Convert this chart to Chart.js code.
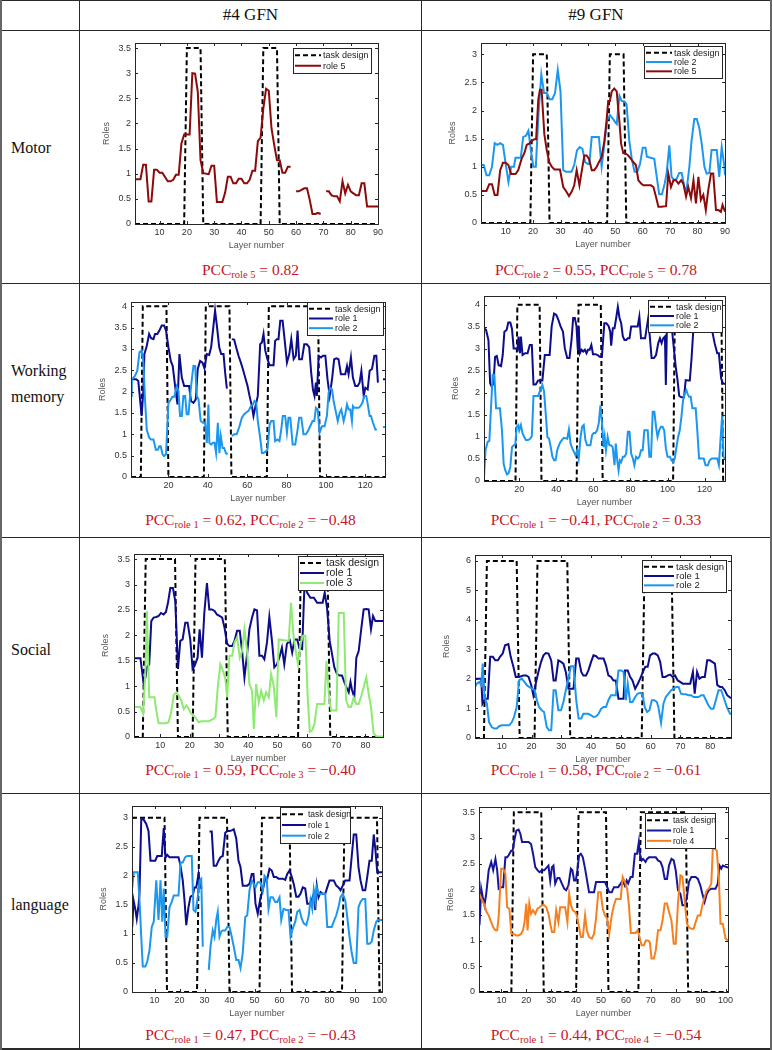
<!DOCTYPE html>
<html>
<head>
<meta charset="utf-8">
<script src="https://cdn.jsdelivr.net/npm/chart.js@4.4.0/dist/chart.umd.min.js"></script>
<style>
  body { margin: 0; background: #fff; }
  #page { position: relative; width: 772px; height: 1050px; overflow: hidden; font-family: "Liberation Serif", serif; color: #111; }
  .ln { position: absolute; background: #2a2a2a; }
  .hd { position: absolute; top: 0; height: 30px; line-height: 30px; text-align: center; font-size: 17px; }
  .rl { position: absolute; left: 11px; font-size: 16px; line-height: 26px; }
  .pcc { position: absolute; height: 20px; line-height: 20px; text-align: center; color: #c8141e; font-size: 15.5px; white-space: nowrap; }
  .pcc sub { font-size: 10.5px; vertical-align: -3px; line-height: 0; }
  canvas { position: absolute; }
</style>
</head>
<body>
<div id="page">
  <div class="ln" style="left:0;top:0;width:772px;height:1px"></div>
  <div class="ln" style="left:0;top:30px;width:772px;height:1px"></div>
  <div class="ln" style="left:0;top:283px;width:772px;height:1px"></div>
  <div class="ln" style="left:0;top:537px;width:772px;height:1px"></div>
  <div class="ln" style="left:0;top:793px;width:772px;height:1px"></div>
  <div class="ln" style="left:0;top:1048px;width:772px;height:2px"></div>
  <div class="ln" style="left:0;top:0;width:2px;height:1050px;background:#666"></div>
  <div class="ln" style="left:79px;top:0;width:1px;height:1050px"></div>
  <div class="ln" style="left:421px;top:0;width:1px;height:1050px"></div>
  <div class="ln" style="left:770px;top:0;width:2px;height:1050px;background:#666"></div>

  <div class="hd" style="left:80px;width:341px">#4 GFN</div>
  <div class="hd" style="left:422px;width:348px">#9 GFN</div>

  <div class="rl" style="top:135px">Motor</div>
  <div class="rl" style="top:358px">Working<br>memory</div>
  <div class="rl" style="top:637px">Social</div>
  <div class="rl" style="top:892px">language</div>

  <div class="pcc" style="left:80px;width:341px;top:260px">PCC<sub>role 5</sub> = 0.82</div>
  <div class="pcc" style="left:422px;width:348px;top:260px">PCC<sub>role 2</sub> = 0.55, PCC<sub>role 5</sub> = 0.78</div>
  <div class="pcc" style="left:80px;width:341px;top:510px">PCC<sub>role 1</sub> = 0.62, PCC<sub>role 2</sub> = −0.48</div>
  <div class="pcc" style="left:422px;width:348px;top:510px">PCC<sub>role 1</sub> = −0.41, PCC<sub>role 2</sub> = 0.33</div>
  <div class="pcc" style="left:80px;width:341px;top:760px">PCC<sub>role 1</sub> = 0.59, PCC<sub>role 3</sub> = −0.40</div>
  <div class="pcc" style="left:422px;width:348px;top:760px">PCC<sub>role 1</sub> = 0.58, PCC<sub>role 2</sub> = −0.61</div>
  <div class="pcc" style="left:80px;width:341px;top:1025px">PCC<sub>role 1</sub> = 0.47, PCC<sub>role 2</sub> = −0.43</div>
  <div class="pcc" style="left:422px;width:348px;top:1025px">PCC<sub>role 1</sub> = 0.44, PCC<sub>role 4</sub> = −0.54</div>
</div>
<script>
// tick labels
const xTicks90 = [10, 20, 30, 40, 50, 60, 70, 80, 90];
const xTicks130 = [20, 40, 60, 80, 100, 120];
const xTicks87 = [10, 20, 30, 40, 50, 60, 70, 80];
const xTicks100 = [10, 20, 30, 40, 50, 60, 70, 80, 90, 100];
const yTicks3 = [0, 0.5, 1, 1.5, 2, 2.5, 3];
const yTicks35 = [0, 0.5, 1, 1.5, 2, 2.5, 3, 3.5];
const yTicks4 = [0, 0.5, 1, 1.5, 2, 2.5, 3, 3.5, 4];
const yTicks6 = [0, 1, 2, 3, 4, 5, 6];

// task design (boxcar), [layer, value]
const taskMotor4 = [[1,0],[19,0],[20,3.5],[25,3.5],[26,0],[47,0],[48,3.5],[53,3.5],[54,0],[90,0]];
const taskMotor9 = [[1,0],[19,0],[20,3],[25,3],[26,0],[47,0],[48,3],[53,3],[54,0],[90,0]];
const taskWm4 = [[1,0],[6,0],[7,4],[19,4],[20,0],[38,0],[39,4],[51,4],[52,0],[70,0],[71,4],[96,4],[97,0],[130,0]];
const taskWm9 = [[1,0],[18,0],[19,4],[31,4],[32,0],[51,0],[52,4],[64,4],[65,0],[103,0],[104,4],[129,4],[130,0],[131,0]];
const taskSocial4 = [[1,0],[4,0],[5,3.5],[15,3.5],[16,0],[21,0],[22,3.5],[32,3.5],[33,0],[57,0],[58,3.5],[67,3.5],[68,0],[86,0]];
const taskSocial9 = [[1,0],[4,0],[5,6],[15,6],[16,0],[21,0],[22,6],[32,6],[33,0],[57,0],[58,6],[67,6],[68,0],[87,0]];
const taskLang4 = [[1,3],[14,3],[15,0],[27,0],[28,3],[39,3],[40,0],[52,0],[53,3],[64,3],[65,0],[85,0],[86,3],[99,3],[100,0],[101,0]];
const taskLang9 = [[1,0],[14,0],[15,3.5],[26,3.5],[27,0],[40,0],[41,3.5],[52,3.5],[53,0],[65,0],[66,3.5],[84,3.5],[85,0],[101,0]];

// roles, [layer, value]; null = missing layer
const motor4Role5 = [[1,0.89],[3,0.89],[4,1.18],[5,1.18],[6,0.45],[7,0.45],[8,1.08],[9,1.08],[10,1.02],[11,1.02],[13,0.85],[14,0.85],[15,0.88],[16,0.98],[17,0.98],[18,1.6],[19,1.78],[21,1.78],[22,3.0],[23,2.99],[24,2.63],[25,1.27],[26,1.01],[28,0.99],[29,1.16],[30,1.16],[31,0.44],[33,0.44],[34,0.62],[35,0.94],[36,0.94],[37,0.81],[38,0.81],[39,0.9],[40,0.9],[41,0.81],[42,0.81],[43,0.88],[44,1.06],[45,1.06],[46,1.65],[47,1.72],[48,2.3],[49,2.69],[50,2.65],[51,1.9],[52,1.57],[53,1.27],[54,1.27],[55,1.02],[56,1.02],[57,1.14],[58,1.14],[59,null],[60,0.65],[61,0.65],[63,0.71],[64,0.71],[65,0.48],[66,0.2],[67,0.2],[68,0.22],[69,0.2],[70,null],[71,0.65],[72,0.65],[73,0.57],[74,0.55],[75,0.55],[76,0.45],[77,0.85],[78,0.61],[79,0.78],[80,0.65],[81,0.61],[82,0.57],[83,0.57],[84,0.81],[85,0.81],[86,0.35],[87,0.35],[90,0.35]];

const motor9Role2 = [[1,1.03],[2,1.03],[3,0.85],[4,0.85],[5,1.0],[6,1.42],[7,1.39],[8,1.42],[9,1.39],[10,1.05],[11,0.73],[12,1.0],[13,1.0],[13.6,1.16],[15.5,1.16],[16.4,1.53],[17.4,1.55],[18.3,1.64],[19.2,1.29],[20.1,1.0],[21,1.0],[22,1.96],[23,2.64],[24,2.31],[25,2.31],[26,2.2],[27,2.2],[28,2.31],[29,2.72],[30,2.34],[31,0.94],[32,0.91],[34,0.91],[35,1.03],[36,1.29],[37,1.35],[38,1.32],[39,1.08],[40,1.05],[40.5,1.05],[41.4,1.53],[44,1.53],[45,1.0],[46,1.41],[47,1.83],[48,1.92],[49,1.86],[50,1.79],[50.5,1.76],[51.5,2.26],[52.3,2.17],[53.3,2.16],[54.1,2.11],[55.1,1.46],[56,1.14],[57,0.91],[58,0.91],[59,1.05],[60,1.34],[61,1.34],[61.5,1.18],[64.2,1.14],[65.1,0.82],[66,0.51],[67,0.51],[68,0.7],[68.7,0.88],[69.7,1.38],[70.5,0.82],[71.5,0.76],[72.4,0.79],[73.3,0.89],[74.2,0.89],[75.2,0.64],[76,0.59],[77,1.0],[77.8,1.46],[78.8,1.85],[79.7,1.85],[80.6,1.7],[81.5,1.41],[82.5,1.0],[83.3,0.88],[84.3,0.89],[85.1,1.3],[87,1.3],[87.9,0.82],[88.8,1.35],[89.8,1.0],[90,0.85]];
const motor9Role5 = [[1,0.57],[3,0.57],[4,0.69],[5,0.69],[6,0.5],[7,0.5],[8,0.94],[9,1.07],[10,1.07],[11,1.03],[12,0.87],[13.6,0.87],[14.6,0.94],[15.8,1.14],[16.8,1.24],[17.7,1.39],[18.6,1.41],[19.5,1.46],[20.5,1.49],[21.1,1.49],[21.9,2.2],[22.5,2.37],[23.1,2.37],[24.1,1.58],[25,1.29],[25.9,1.08],[26.8,1.0],[27.8,0.95],[29.8,0.95],[31,0.64],[32,0.57],[33.1,0.48],[34.1,0.56],[35,0.67],[35.9,0.94],[36.9,0.67],[37.7,0.91],[38.7,1.2],[39.5,1.2],[40.4,1.14],[41.4,0.94],[42.3,0.94],[43.2,1.0],[44,1.08],[45,1.17],[46,1.46],[46.8,1.82],[47.4,2.17],[48,2.17],[48.7,2.34],[49.6,2.39],[50.5,2.34],[51.5,1.79],[52.1,1.41],[52.9,1.24],[53.9,1.23],[54.7,1.2],[55.7,1.14],[56.6,1.08],[57.5,1.03],[58.4,0.76],[59.4,0.7],[60.2,0.67],[63,0.67],[63.9,0.64],[64.8,0.47],[65.7,0.29],[66.7,0.29],[68.5,0.3],[69.3,0.88],[70.3,0.64],[71.2,0.76],[72.1,0.76],[73,0.7],[74,0.76],[74.8,0.7],[75.8,0.47],[76.6,0.64],[77.6,0.44],[78.5,0.76],[79.4,0.35],[80.3,0.82],[81.2,0.41],[82.1,0.5],[83,0.23],[83.9,0.59],[84.9,0.88],[85.7,0.88],[86.7,0.23],[87.6,0.23],[88.5,0.2],[89.1,0.32],[90,0.2]];

const wm4Role1 = [[1,2.29],[3.6,2.29],[4.7,2.25],[5.6,1.82],[6.4,1.43],[7.3,2.05],[7.8,2.88],[9,3.07],[10.2,3.35],[11.2,3.25],[12.4,3.23],[13.2,3.35],[14.4,3.35],[15.4,3.43],[16.6,3.55],[17.8,3.55],[18.8,3.43],[20,3.04],[21.2,2.72],[22.2,2.6],[23.4,2.13],[24.6,1.7],[25.6,2.88],[26.8,2.33],[28,2.13],[30.5,2.13],[31.5,1.78],[32.7,1.74],[33.9,1.82],[34.9,2.53],[36.1,2.72],[37.3,2.68],[38.3,2.55],[39.5,2.88],[40.7,2.86],[41.7,3.04],[42.9,3.55],[43.7,3.9],[44.6,3.55],[45.8,3.04],[46.8,2.88],[48,2.88],[48.8,2.45],[49.7,2.07],[51,null],[52.2,3.23],[53.4,3.22],[54.4,3.04],[55.6,2.84],[56.8,2.68],[57.8,2.53],[59,2.33],[60.2,2.13],[61.2,1.9],[62.4,1.66],[63.2,1.43],[64.4,1.7],[65.4,1.9],[66.6,3.11],[67.5,3.15],[68.3,3.35],[69.2,2.96],[70.3,2.76],[71.4,2.62],[73.4,2.62],[74.2,3.19],[75.1,3.23],[75.9,3.23],[76.8,3.66],[78,3.66],[79,3.23],[80.2,2.68],[81.4,2.88],[82.4,3.23],[83.6,2.76],[84.7,2.84],[85.6,3.43],[86.4,2.76],[87.8,2.76],[89,3.11],[90.3,3.11],[91.5,3.04],[92.5,2.45],[93.4,2.05],[94.2,1.9],[94.9,2.21],[95.4,1.9],[96.3,2.84],[97.5,2.8],[98.5,2.84],[99.7,2.84],[100.8,2.29],[101.9,1.9],[103.1,2.29],[104.2,2.76],[105.3,2.78],[106.4,2.76],[107.6,2.41],[109.8,2.41],[110.7,2.6],[111.5,2.41],[112.7,2.8],[113.7,2.33],[114.9,2.13],[116.1,2.13],[117.1,2.21],[118,2.49],[119.2,1.9],[120,2.09],[121.2,2.05],[122.2,2.49],[123.4,2.53],[124.6,2.84],[125.6,2.84],[126.4,2.21],[127.5,null],[129,2.29],[130,2.29]];
const wm4Role2 = [[1,1.9],[1.4,2.29],[3,2.37],[4.2,2.49],[5.3,2.92],[6.4,2.96],[7.3,2.68],[8.1,1.82],[9,1.11],[10.2,0.92],[11.2,0.88],[12.4,0.88],[13.6,0.64],[14.6,0.64],[15.4,0.72],[16.1,0.72],[17,0.53],[17.8,0.49],[18.8,0.53],[20,1.74],[20.8,1.78],[22,1.88],[23,1.88],[24.2,2.12],[25.1,2.02],[25.9,1.43],[26.8,1.43],[27.6,1.9],[28.5,1.9],[29.3,1.47],[30.2,1.47],[31,1.9],[31.9,2.29],[32.7,2.6],[33.6,2.6],[34.4,1.9],[35.3,1.82],[36.4,1.31],[37.5,1.27],[38.6,1.27],[39.5,0.8],[40.3,1.7],[40.8,0.8],[41.7,0.76],[42.5,0.8],[43.4,0.8],[44.2,0.56],[45.1,1.27],[45.9,0.56],[46.6,0.96],[47.5,0.68],[48.3,0.68],[49.2,0.56],[50,0.53],[51,null],[52.2,0.96],[53.4,1.0],[54.7,1.0],[56.1,1.19],[57.3,1.39],[58.5,1.47],[59.5,1.51],[60.7,1.55],[61.9,1.66],[62.9,1.7],[63.7,1.78],[64.6,1.74],[65.4,1.31],[66.6,0.92],[67.5,0.56],[68.3,0.56],[69.5,0.6],[70.3,0.64],[71.4,1.23],[72.2,1.31],[73.4,1.31],[74.2,0.84],[75.4,0.88],[76.4,0.84],[77.3,1.11],[78.1,1.43],[79.3,1.43],[80.2,1.04],[81,1.39],[81.9,1.39],[83.1,0.76],[84.4,0.76],[85.6,1.11],[86.4,1.39],[87.5,1.39],[88.6,1.0],[89.8,1.0],[90.8,1.07],[92,1.19],[93.2,1.31],[94.1,1.31],[94.9,1.62],[95.8,1.58],[96.8,1.04],[98,1.19],[99.3,1.19],[100.5,1.43],[101.4,1.98],[102.2,2.09],[103.1,2.05],[103.9,1.78],[105.1,1.51],[106,1.31],[107,1.51],[107.8,1.58],[109,1.31],[109.8,1.47],[110.7,1.7],[111.5,1.58],[112.4,1.58],[113.2,1.31],[113.7,1.66],[114.4,1.62],[116.6,1.62],[117.5,1.66],[118.5,1.74],[119.5,1.9],[120.5,1.9],[121.4,1.66],[122.2,1.43],[122.9,1.43],[123.9,1.27],[125.1,1.11],[125.9,1.11],[127.5,null],[129,1.17],[130,1.17]];

const wm9Role1 = [[1,3.47],[2.1,3.43],[3.4,3.2],[4.3,2.22],[5.2,2.14],[6.1,2.22],[7,2.82],[7.9,2.84],[8.9,2.63],[10.2,2.61],[11.1,2.86],[12,3.39],[13.2,3.43],[14.1,3.6],[15.2,3.6],[16.1,3.45],[17,3.01],[18.2,3.01],[19.1,2.98],[19.6,3.28],[20.4,2.9],[20.9,3.28],[21.8,2.86],[23.2,2.9],[24.5,2.9],[25.7,3.09],[26.8,3.09],[27.7,2.19],[28.9,2.19],[30.2,2.28],[32.5,2.28],[33.8,2.86],[36.4,2.86],[37.5,3.51],[38.8,3.8],[40,3.77],[41.1,3.66],[42.3,3.51],[43.6,3.39],[44.6,3.01],[45.9,2.79],[47.1,2.79],[48.2,3.2],[49.1,3.7],[50,3.7],[50.9,3.51],[51.6,2.98],[52.1,3.51],[52.7,2.9],[53.6,2.98],[54.5,2.94],[55.4,2.98],[56.3,2.9],[57.1,2.98],[58,2.98],[58.9,3.09],[59.8,2.88],[61.1,2.88],[62.3,2.86],[63.4,2.82],[64.6,2.82],[65.9,3.58],[67,3.58],[68.2,3.52],[69.1,3.39],[69.6,3.07],[70.5,3.47],[71.4,3.47],[72.3,3.7],[73.2,3.95],[74.1,3.7],[75,3.58],[75.9,3.28],[76.8,3.2],[77.7,3.2],[78.6,3.24],[79.5,3.24],[80.4,3.51],[83.9,3.51],[84.8,3.73],[85.7,3.24],[87.9,3.24],[89.6,3.7],[91.4,2.79],[92.7,2.79],[93.8,2.86],[95,3.13],[95.9,3.24],[96.8,3.13],[97.7,3.24],[98.6,3.28],[99.1,2.18],[99.6,3.35],[100.4,3.77],[102,3.6],[104.5,2.56],[105.4,2.29],[106.3,1.93],[107.5,1.9],[108.9,1.9],[109.8,2.29],[111.1,2.28],[112,2.28],[112.9,2.75],[113.8,3.35],[114.6,3.58],[116.4,3.6],[120,3.6],[123.6,3.51],[125.4,3.13],[126.8,2.9],[127.7,2.9],[128.9,2.33],[129.8,2.22],[131,2.2]];
const wm9Role2 = [[1,0.09],[1.8,0.7],[3,0.89],[3.9,0.91],[4.8,1.69],[5.7,2.41],[6.6,2.41],[7.5,1.65],[9.6,1.65],[10.7,1.15],[11.6,0.39],[12.5,0.24],[13.4,0.15],[14.3,0.18],[15.2,0.32],[16.1,0.77],[17,0.81],[17.9,0.83],[18.6,1.23],[19.5,1.27],[20,1.15],[20.9,1.27],[21.8,1.08],[22.7,1.0],[23.6,0.93],[24.8,0.93],[25.9,0.96],[26.8,1.02],[27.7,1.93],[30.2,1.93],[31.3,2.06],[32.5,2.18],[33.4,2.03],[34.3,1.53],[35.2,1.0],[36.1,0.96],[37,0.77],[37.9,0.55],[38.8,0.47],[39.6,0.47],[40.5,0.7],[41.4,0.81],[42.3,0.89],[43.2,0.94],[44.1,0.98],[45.9,0.96],[46.8,1.17],[47.7,0.85],[48.6,0.74],[49.5,0.66],[50.4,0.58],[51.3,0.7],[52.1,0.51],[53,0.96],[53.9,1.23],[54.8,1.27],[55.7,0.93],[56.6,0.81],[58.4,0.81],[59.3,1.04],[60.2,1.09],[61.1,1.09],[62,1.15],[62.9,1.31],[63.8,1.72],[64.6,1.34],[65.5,0.77],[66.1,1.0],[66.8,0.7],[67.7,1.0],[68.6,0.81],[69.5,0.81],[70.4,0.77],[71.4,0.36],[72.1,0.85],[72.9,0.47],[73.6,0.24],[74.3,0.47],[75,0.43],[75.9,0.55],[76.8,0.55],[77.7,0.62],[78.6,1.12],[79.5,1.12],[80.4,0.62],[81.3,0.51],[82.1,0.36],[83,0.55],[83.9,0.51],[84.8,0.55],[85.7,0.7],[86.6,0.7],[87.5,1.15],[89.3,1.15],[90.2,0.55],[91.1,0.55],[92,1.57],[92.9,1.57],[93.8,1.23],[94.6,1.0],[95.5,1.15],[96.4,1.23],[97.3,1.23],[98.2,1.15],[99.1,0.74],[100,0.55],[101.3,0.55],[102.1,0.47],[103,0.43],[103.9,0.51],[104.8,0.77],[105.7,1.0],[106.6,1.15],[107.5,1.46],[108.4,1.84],[109.3,1.99],[110.2,2.06],[110.7,1.99],[111.6,1.91],[112.5,1.91],[113.4,1.65],[115.2,1.65],[116.1,1.12],[117,0.51],[119.5,0.51],[120.5,0.36],[121.8,0.36],[122.7,0.47],[123.9,0.51],[126.8,0.51],[127.7,0.36],[128.6,0.96],[129.5,1.5],[130.2,0.55],[131,0.5]];

const social4Role1 = [[1,1.55],[3.2,1.55],[4.3,1.04],[4.9,1.17],[5.4,1.37],[6.2,1.43],[6.9,2.28],[7.7,2.35],[8.6,2.36],[9.4,2.38],[10.2,2.44],[11.1,2.41],[11.9,2.46],[12.6,2.64],[13.4,2.93],[14.3,2.93],[15.1,2.67],[16,1.34],[16.8,1.89],[17.6,1.92],[18.5,2.25],[19.3,2.25],[20.2,1.92],[21,1.34],[21.7,1.4],[22.7,1.56],[23.4,2.12],[24.2,1.56],[25,2.44],[25.9,3.03],[26.7,2.51],[27.6,2.51],[28.5,2.48],[29.3,2.41],[30.3,2.38],[31.1,2.35],[31.9,2.15],[32.8,1.83],[33.6,1.79],[34.5,1.79],[35.3,1.89],[36.2,2.09],[37.1,2.09],[37.9,1.69],[38.7,1.17],[39.6,1.63],[40.4,2.12],[41.3,2.35],[42.1,2.51],[43,2.49],[43.8,1.6],[44.7,1.6],[45.5,1.53],[46.4,1.86],[47.2,2.36],[48.1,1.89],[48.9,1.37],[49.8,1.43],[50.6,1.56],[51.5,1.76],[52.3,1.43],[53.2,1.83],[54.2,1.9],[55,1.66],[55.8,1.92],[56.7,1.92],[57.5,1.75],[58.4,1.73],[59.2,3.0],[60.1,2.84],[61.2,2.74],[62.4,2.74],[63.5,2.64],[65.4,2.64],[66.1,2.84],[66.9,2.54],[67.8,1.89],[68.6,1.63],[69.4,1.37],[70.3,1.24],[71.2,1.21],[72,1.21],[72.8,1.08],[73.5,0.98],[74.3,0.88],[74.9,1.08],[75.4,0.93],[76.2,0.78],[76.9,1.56],[77.7,1.69],[78.5,2.09],[79.4,2.51],[80.3,2.52],[81.1,2.51],[81.9,2.12],[82.6,2.38],[83.4,2.28],[86,2.28]];
const social4Role3 = [[1,0.59],[3.2,0.59],[4.1,0.46],[4.9,1.3],[5.4,2.48],[6.2,0.78],[8,0.78],[8.6,0.52],[9.4,0.27],[11.9,0.27],[12.8,0.29],[13.6,0.46],[14.6,0.83],[15.5,0.88],[16.3,0.81],[17.1,0.72],[18,0.55],[18.9,0.62],[19.7,0.55],[20.5,0.46],[21.4,0.42],[22.2,0.36],[23.1,0.29],[23.9,0.31],[26.5,0.31],[27.3,0.33],[28.2,0.36],[28.8,0.39],[29.6,0.98],[30.5,1.43],[31.4,1.3],[32.2,1.14],[32.8,0.78],[33.6,1.6],[34.5,1.6],[35.3,1.86],[36.2,1.96],[37.1,1.56],[37.9,1.69],[38.7,2.12],[39.6,1.69],[40.4,1.04],[41.3,0.91],[41.9,0.16],[42.7,1.04],[43.6,0.68],[44.4,0.91],[45.3,0.72],[46.1,0.88],[47,0.78],[47.8,1.24],[48.7,1.01],[49.6,0.39],[50.4,1.92],[53.8,1.89],[54.6,2.64],[55.5,1.96],[56.3,1.66],[57,1.43],[57.8,1.83],[58.7,1.99],[59.5,1.99],[60.3,0.78],[61,0.1],[61.8,0.13],[62.6,0.26],[63.5,0.65],[66,0.65],[66.7,1.5],[67.5,0.85],[68.3,0.52],[70.1,0.52],[70.9,2.44],[72.6,2.44],[73.4,0.72],[74.3,0.59],[75.1,0.59],[76,0.78],[76.9,0.65],[77.7,0.65],[78.6,0.81],[79.4,0.98],[80.3,1.17],[81.1,0.85],[81.9,0.59],[82.8,0.07],[83.8,0.01],[86,0.01]];

const social9Role1 = [[1,2.01],[3.1,2.01],[3.5,1.16],[4.4,1.33],[5.3,1.33],[6.1,2.75],[7,2.75],[7.8,2.63],[8.7,2.63],[9.4,2.75],[10.3,2.86],[11.1,3.14],[12.2,3.18],[13,2.75],[13.9,2.41],[14.7,2.07],[15.6,2.07],[16.5,2.09],[17.3,2.12],[18.2,2.12],[19,2.07],[19.9,1.79],[20.6,1.45],[21.4,1.84],[22.3,2.24],[23.2,2.58],[24,2.8],[24.8,2.88],[25.7,2.86],[26.6,2.63],[27.4,1.95],[28.1,1.95],[29,2.63],[29.9,2.58],[30.7,2.52],[31.5,2.24],[32.4,1.67],[34.1,1.67],[35,2.69],[35.8,2.69],[36.7,2.24],[37.4,2.12],[38.3,2.12],[39.1,2.29],[40,2.58],[40.8,2.8],[41.7,2.77],[42.5,2.69],[44.2,2.69],[45,2.46],[45.8,2.12],[46.7,2.07],[47.5,1.95],[48.3,1.95],[49.2,1.33],[50.9,1.33],[51.4,2.29],[52.3,2.29],[53.1,2.07],[53.9,1.95],[54.8,1.67],[55.7,1.84],[56.5,2.01],[57.4,2.24],[58.2,2.41],[59,2.41],[59.8,2.8],[60.7,2.86],[61.5,2.86],[62.4,2.8],[63.2,2.58],[64,2.07],[64.9,2.07],[65.8,2.12],[66.6,2.15],[67.4,2.07],[68.2,2.12],[69.1,1.95],[69.9,1.9],[70.8,1.84],[73.3,1.84],[74.2,2.24],[74.8,1.5],[75.6,2.24],[76.4,2.01],[77.3,2.07],[78.2,2.07],[79,2.63],[79.9,2.63],[80.7,2.58],[81.6,2.52],[82.4,1.79],[83.3,1.73],[84,1.73],[84.9,1.62],[85.7,1.45],[87,1.35]];
const social9Role2 = [[1,1.73],[1.6,1.84],[2.4,1.9],[3.1,1.79],[3.6,2.52],[4.2,1.39],[5,1.16],[5.7,0.54],[6.6,0.37],[7.5,0.32],[8.3,0.32],[9.1,0.4],[10,0.43],[12.5,0.43],[13.4,0.54],[14.1,0.71],[15,1.05],[15.8,1.95],[16.7,2.01],[17.6,1.9],[18.4,1.79],[19.2,1.73],[20.1,1.67],[21,1.62],[21.8,1.28],[22.5,1.05],[23.4,0.94],[24.2,0.88],[25.1,0.37],[25.9,0.26],[26.6,0.26],[27.4,1.62],[28.1,1.62],[29,0.94],[29.9,0.94],[30.7,1.22],[31.5,1.62],[32.4,2.01],[33.2,2.43],[34.1,2.43],[35,1.28],[35.8,0.66],[36.7,0.66],[37.4,0.82],[39.1,0.82],[40,0.77],[40.8,0.71],[41.7,0.73],[42.5,0.82],[43.4,0.99],[44.2,1.05],[45,1.05],[45.8,1.28],[46.7,1.45],[48.3,1.45],[49.2,2.29],[50.1,2.29],[50.9,2.24],[51.7,1.28],[52.3,1.84],[53.1,1.22],[53.9,1.22],[54.8,1.39],[55.6,1.5],[56.5,1.53],[57.3,1.48],[58,1.05],[58.8,0.88],[59.6,0.94],[60.4,1.28],[61.3,1.28],[62.1,1.22],[62.6,1.05],[63.5,0.51],[64.3,1.16],[65.1,1.39],[66,1.5],[66.9,1.62],[67.7,1.67],[68.6,1.73],[69.4,1.73],[70.2,1.5],[71,1.48],[71.9,1.48],[72.7,1.45],[73.6,1.45],[74.4,1.39],[76.1,1.39],[77,1.45],[77.8,1.45],[78.6,1.28],[79.4,1.11],[80.3,0.99],[81.1,0.99],[81.9,1.28],[82.8,1.62],[83.7,1.62],[84.5,1.39],[85.6,1.05],[86.7,0.82],[87,0.8]];

const lang4Role1 = [[1.1,1.12],[1.6,1.58],[2.3,1.43],[2.9,1.26],[3.6,1.49],[4,1.69],[4.7,2.97],[5.6,2.97],[6.7,2.89],[7.6,2.77],[8.4,2.26],[10.3,2.26],[11.1,2.34],[12.9,2.34],[13.7,2.82],[14.4,2.31],[15.1,2.36],[16,2.32],[19.6,2.32],[20.4,2.17],[21.3,1.92],[22,1.58],[22.7,1.15],[23.6,1.46],[24.4,1.64],[25.3,1.66],[26,1.8],[26.7,1.8],[27.6,2.03],[28.3,1.8],[29.1,1.78],[30.5,null],[32,2.76],[32.9,2.76],[33.7,2.17],[34.7,2.17],[35.6,2.26],[36.4,2.32],[37.3,2.34],[38.3,2.74],[39.1,2.77],[40,2.77],[40.9,2.78],[41.7,2.8],[42.7,2.64],[43.6,2.26],[44.4,2.15],[45.3,1.83],[47.1,1.83],[48,1.86],[48.9,2.03],[49.6,2.03],[50.4,1.52],[51.3,1.35],[52.3,1.6],[53.3,1.75],[54.3,1.95],[55.1,1.95],[56,2.12],[56.9,2.09],[57.7,1.98],[58.7,1.98],[59.6,1.95],[61.3,1.95],[62.3,1.93],[63.1,2.03],[64,2.09],[64.9,1.98],[65.7,1.86],[66.7,1.64],[67.6,1.64],[68.4,1.69],[69.3,1.8],[70.3,1.78],[71.1,1.52],[72,1.52],[72.9,1.58],[73.7,1.69],[74.3,1.41],[74.9,1.83],[75.6,1.63],[76.4,1.72],[77.3,1.69],[78.3,1.69],[79.1,1.8],[80,1.92],[81.7,1.92],[82.7,1.83],[83.6,1.8],[84.4,1.75],[85.3,1.83],[86.3,1.92],[88,1.92],[88.9,2.34],[89.7,2.71],[90.7,2.71],[91.6,2.15],[92.4,1.92],[93.3,1.75],[94.3,1.75],[95.1,1.98],[96,2.26],[96.9,2.26],[97.7,2.71],[98.4,2.43],[99.1,2.06],[101,2.06]];
const lang4Role2 = [[1.1,1.8],[1.7,2.06],[3.3,2.06],[4,1.58],[4.7,0.95],[5.3,0.44],[6.3,0.44],[7.1,0.52],[8,0.72],[8.9,1.12],[9.7,1.21],[10.7,1.92],[11.6,1.24],[12.4,1.92],[13.1,1.21],[13.7,1.78],[14.4,0.95],[15.1,0.95],[16,1.46],[16.9,1.55],[17.7,1.66],[19.6,1.66],[20.4,2.23],[21.3,2.23],[22.3,2.32],[23.1,2.34],[24.9,2.34],[25.6,1.41],[26.4,1.38],[27.3,1.63],[28,1.92],[28.7,1.95],[29.3,0.78],[30.5,null],[31.7,0.38],[32.4,0.78],[33.3,1.06],[34,0.95],[34.7,1.24],[35.3,1.38],[36,0.95],[36.7,1.04],[37.3,1.06],[38.3,1.06],[39.1,1.12],[40,1.12],[40.9,0.95],[41.7,0.78],[42.7,0.55],[43.6,0.55],[44.4,0.41],[45.3,0.67],[46.3,1.29],[47.1,1.32],[48,1.75],[48.9,1.92],[49.7,1.86],[50.4,1.8],[51.3,1.89],[52.3,1.89],[53.3,1.75],[54,2.0],[54.9,1.95],[55.6,1.43],[56.4,1.63],[57.3,1.63],[58.3,1.55],[59.1,1.55],[60,1.63],[60.7,1.24],[61.6,1.43],[62.7,1.41],[63.6,1.41],[64.4,0.95],[65.3,1.09],[66.3,1.21],[67.1,1.38],[68,1.41],[68.9,1.26],[69.7,1.18],[70.7,1.15],[71.6,1.29],[72.4,1.58],[73.1,1.43],[73.7,1.75],[74.3,1.55],[74.9,1.8],[75.6,1.69],[78.3,1.69],[79.1,1.12],[80.9,1.12],[81.7,1.21],[82.7,1.32],[83.6,1.46],[84.4,1.63],[85.3,1.69],[86.3,1.58],[87.1,1.29],[88,0.95],[88.9,0.67],[89.7,0.5],[90.7,0.5],[91.6,1.46],[92.4,1.55],[93.3,1.6],[94.3,1.6],[95.1,0.83],[96,0.83],[96.9,0.87],[97.7,1.06],[98.7,1.21],[99.3,1.24],[101,1.24]];

const lang9Role1 = [[1.2,1.3],[1.9,2.01],[2.5,1.85],[3.2,1.69],[3.9,1.91],[4.9,2.37],[5.9,2.53],[6.7,2.37],[7.6,2.59],[8.3,2.37],[8.9,2.01],[9.9,2.04],[10.7,2.04],[11.6,2.62],[12.3,2.62],[12.9,2.66],[13.9,2.75],[14.5,2.75],[15.2,2.95],[16,3.14],[16.9,3.16],[17.6,3.08],[18.3,2.92],[20.9,2.92],[21.9,2.88],[22.7,2.69],[23.6,2.43],[24.5,2.37],[25.3,2.33],[26.3,2.37],[27.2,2.37],[28,2.41],[28.9,2.46],[29.6,2.17],[30.3,2.43],[30.9,2.46],[31.6,2.11],[32.5,2.22],[33.3,2.22],[34.3,2.11],[35.2,2.01],[36,1.98],[36.9,2.07],[37.9,2.4],[38.5,2.37],[39.2,2.17],[39.9,2.17],[40.5,2.37],[41.2,2.66],[41.9,2.69],[42.7,2.62],[43.6,2.4],[44.3,2.2],[45.2,1.94],[47.2,1.94],[48,2.14],[51.6,2.14],[52.5,2.04],[53.3,1.94],[54.3,1.94],[55.2,2.04],[56.9,2.04],[57.9,2.11],[58.7,2.17],[59.6,2.07],[60.3,2.17],[60.9,2.11],[61.9,2.24],[62.7,2.24],[63.6,2.69],[64.5,2.69],[65.2,2.92],[65.6,2.69],[66.3,2.56],[66.9,2.59],[67.9,2.53],[68.5,2.59],[69.3,2.62],[72,2.62],[72.9,2.56],[73.9,2.53],[74.7,2.43],[75.6,2.2],[76.5,2.2],[77.3,2.46],[78.3,2.59],[79.2,2.56],[80,2.37],[80.9,1.98],[81.9,1.91],[82.7,1.69],[83.6,1.69],[84.5,1.85],[85.3,2.14],[86.3,2.24],[88,2.24],[88.9,2.2],[89.9,2.07],[90.7,1.91],[91.6,1.75],[92.5,1.91],[93.3,1.98],[94.3,2.01],[96,2.01],[96.9,2.11],[97.6,2.46],[98.3,2.4],[98.9,2.46],[101,2.42]];
const lang9Role4 = [[1.2,1.91],[2.3,1.78],[3.2,1.69],[4,1.56],[4.9,1.49],[5.9,1.36],[6.7,1.26],[7.6,1.2],[8.3,1.2],[8.9,1.46],[9.9,2.4],[10.7,2.4],[11.6,2.3],[12.3,1.65],[13.2,1.62],[14,1.13],[14.9,1.13],[16,1.1],[16.9,1.1],[17.9,1.13],[18.7,1.21],[19.3,1.36],[20,1.72],[20.5,1.2],[21.2,1.72],[21.9,1.52],[22.7,1.59],[23.6,1.52],[24.5,1.62],[25.3,1.65],[26.3,1.69],[27.2,1.69],[28,1.65],[28.9,1.52],[29.6,1.33],[30.3,1.17],[31.2,1.17],[32,1.59],[32.9,1.36],[33.6,1.65],[35.6,1.65],[36.5,1.36],[37.2,1.91],[37.9,1.69],[38.7,1.59],[39.6,1.56],[40.3,1.49],[40.9,1.33],[41.9,1.07],[42.7,1.07],[43.6,1.49],[44.3,1.2],[45.2,1.07],[46.3,1.04],[47.2,1.13],[48,1.43],[48.9,1.94],[49.9,1.94],[50.7,1.62],[51.6,1.49],[52.5,1.43],[53.3,1.13],[54.3,1.49],[55.2,1.69],[56,1.81],[57.9,1.81],[58.7,2.24],[59.6,2.14],[60.5,2.01],[61.2,1.69],[62,1.15],[63.9,1.15],[64.7,1.2],[65.6,1.04],[66.3,0.91],[67.2,0.91],[68,1.0],[68.9,1.0],[69.6,0.97],[70.3,0.65],[71.2,0.65],[72,0.81],[72.9,1.2],[73.9,1.2],[74.7,1.39],[75.6,1.72],[76.5,1.72],[77.3,1.56],[78.3,1.39],[79.2,0.94],[80,0.94],[80.9,1.72],[81.9,2.27],[82.7,2.24],[83.6,1.78],[84.5,1.33],[85.3,1.26],[86.3,1.23],[87.2,1.23],[88,1.36],[88.9,1.49],[89.9,1.49],[90.7,1.69],[91.6,1.85],[92.5,1.98],[93.3,2.01],[94.3,2.11],[94.9,2.79],[95.6,2.79],[96.5,2.75],[97.3,2.24],[98,1.33],[98.9,1.33],[100,1.04],[101,1.0]];

const BLACK = '#000000', DARKRED = '#8c0a0a', LIGHTBLUE = '#1b97f0', NAVY = '#0c0c8c', GREEN = '#8eea72', ORANGE = '#f5801f';

// frame = plot box on the page [left, top, right, bottom]; legend offsets from the box corner
const charts = [
  { frame: [135, 43, 378, 224], xMin: 1, xMax: 90, yMax: 3.6, xTicks: xTicks90, yTicks: yTicks35,
    legend: { dx: 158, dy: 5, w: 78, h: 25, font: 9, sample: 26 },
    series: [{ label: 'task design', points: taskMotor4, color: BLACK, dash: true },
             { label: 'role 5', points: motor4Role5, color: DARKRED }] },
  { frame: [481, 43, 725, 223], xMin: 1, xMax: 90, yMax: 3.2, xTicks: xTicks90, yTicks: yTicks3,
    legend: { dx: 163, dy: 3, w: 78, h: 32, font: 9, sample: 26 },
    series: [{ label: 'task design', points: taskMotor9, color: BLACK, dash: true },
             { label: 'role 2', points: motor9Role2, color: LIGHTBLUE },
             { label: 'role 5', points: motor9Role5, color: DARKRED }] },
  { frame: [131, 302, 385, 477], xMin: 1, xMax: 130, yMax: 4.1, xTicks: xTicks130, yTicks: yTicks4,
    legend: { dx: 176, dy: 0, w: 76, h: 33, font: 9, sample: 24 },
    series: [{ label: 'task design', points: taskWm4, color: BLACK, dash: true },
             { label: 'role 1', points: wm4Role1, color: NAVY },
             { label: 'role 2', points: wm4Role2, color: LIGHTBLUE }] },
  { frame: [484, 296, 725, 481], xMin: 1, xMax: 131, yMax: 4.2, xTicks: xTicks130, yTicks: yTicks4,
    legend: { dx: 164, dy: 4, w: 74, h: 32, font: 9, sample: 24 },
    series: [{ label: 'task design', points: taskWm9, color: BLACK, dash: true },
             { label: 'role 1', points: wm9Role1, color: NAVY },
             { label: 'role 2', points: wm9Role2, color: LIGHTBLUE }] },
  { frame: [134, 554, 383, 737], xMin: 1, xMax: 86, yMax: 3.6, xTicks: xTicks87, yTicks: yTicks35,
    legend: { dx: 164, dy: 2, w: 85, h: 34, font: 10.5, sample: 24 },
    series: [{ label: 'task design', points: taskSocial4, color: BLACK, dash: true },
             { label: 'role 1', points: social4Role1, color: NAVY },
             { label: 'role 3', points: social4Role3, color: GREEN }] },
  { frame: [475, 555, 731, 738], xMin: 1, xMax: 87, yMax: 6.2, xTicks: xTicks87, yTicks: yTicks6,
    legend: { dx: 167, dy: 5, w: 84, h: 32, font: 9.5, sample: 30 },
    series: [{ label: 'task design', points: taskSocial9, color: BLACK, dash: true },
             { label: 'role 1', points: social9Role1, color: NAVY },
             { label: 'role 2', points: social9Role2, color: LIGHTBLUE }] },
  { frame: [132, 806, 382, 992], xMin: 1, xMax: 101, yMax: 3.2, xTicks: xTicks100, yTicks: yTicks3,
    legend: { dx: 148, dy: 1, w: 70, h: 36, font: 8.5, sample: 24 },
    series: [{ label: 'task design', points: taskLang4, color: BLACK, dash: true },
             { label: 'role 1', points: lang4Role1, color: NAVY },
             { label: 'role 2', points: lang4Role2, color: LIGHTBLUE }] },
  { frame: [479, 807, 728, 992], xMin: 1, xMax: 101, yMax: 3.6, xTicks: xTicks100, yTicks: yTicks35,
    legend: { dx: 166, dy: 6, w: 70, h: 35, font: 8.5, sample: 24 },
    series: [{ label: 'task design', points: taskLang9, color: BLACK, dash: true },
             { label: 'role 1', points: lang9Role1, color: '#15159e' },
             { label: 'role 4', points: lang9Role4, color: ORANGE }] }
];

// box with inward ticks on all sides, plus a legend drawn over the lines
const boxPlugin = {
  id: 'boxLegend',
  afterDatasetsDraw(chart, args, opts) {
    const { ctx, chartArea: a, scales } = chart;
    ctx.save();
    ctx.strokeStyle = '#262626';
    ctx.lineWidth = 1;
    ctx.setLineDash([]);
    ctx.strokeRect(Math.round(a.left) + 0.5, Math.round(a.top) + 0.5, Math.round(a.width), Math.round(a.height));
    ctx.beginPath();
    scales.x.ticks.forEach(t => {
      const px = Math.round(scales.x.getPixelForValue(t.value)) + 0.5;
      ctx.moveTo(px, a.bottom); ctx.lineTo(px, a.bottom - 3);
      ctx.moveTo(px, a.top); ctx.lineTo(px, a.top + 3);
    });
    scales.y.ticks.forEach(t => {
      const py = Math.round(scales.y.getPixelForValue(t.value)) + 0.5;
      ctx.moveTo(a.left, py); ctx.lineTo(a.left + 3, py);
      ctx.moveTo(a.right, py); ctx.lineTo(a.right - 3, py);
    });
    ctx.stroke();

    const lg = opts.legend;
    const x0 = Math.round(a.left + lg.dx), y0 = Math.round(a.top + lg.dy);
    ctx.fillStyle = '#fff';
    ctx.fillRect(x0, y0, lg.w, lg.h);
    ctx.strokeRect(x0 + 0.5, y0 + 0.5, lg.w, lg.h);
    const rowH = (lg.h - 4) / opts.series.length;
    ctx.font = lg.font + 'px "Liberation Sans", Arial, sans-serif';
    ctx.textBaseline = 'middle';
    opts.series.forEach((s, i) => {
      const cy = y0 + 2 + rowH * (i + 0.5);
      ctx.beginPath();
      ctx.setLineDash(s.dash ? [5, 3] : []);
      ctx.strokeStyle = s.color;
      ctx.lineWidth = 2;
      ctx.moveTo(x0 + 2, cy);
      ctx.lineTo(x0 + 2 + lg.sample, cy);
      ctx.stroke();
      ctx.setLineDash([]);
      ctx.fillStyle = '#1a1a1a';
      ctx.fillText(s.label, x0 + 4 + lg.sample, cy + 0.5);
    });
    ctx.restore();
  }
};

const page = document.getElementById('page');
const PAD_L = 34, PAD_T = 10, PAD_R = 12, PAD_B = 28;
const tickFont = { family: '"Liberation Sans", Arial, sans-serif', size: 9 };

charts.forEach(cfg => {
  const [l, t, r, b] = cfg.frame;
  const W = r - l + PAD_L + PAD_R, H = b - t + PAD_T + PAD_B;
  const canvas = document.createElement('canvas');
  canvas.width = W; canvas.height = H;
  canvas.style.left = (l - PAD_L) + 'px';
  canvas.style.top = (t - PAD_T) + 'px';
  canvas.style.width = W + 'px';
  canvas.style.height = H + 'px';
  page.appendChild(canvas);

  new Chart(canvas.getContext('2d'), {
    type: 'line',
    data: {
      datasets: cfg.series.map((s, i) => ({
        label: s.label,
        data: s.points.map(p => ({ x: p[0], y: p[1] })),
        borderColor: s.color,
        borderWidth: 2,
        borderDash: s.dash ? [5, 3] : [],
        pointRadius: 0,
        tension: 0,
        fill: false,
        spanGaps: false,
        order: cfg.series.length - i
      }))
    },
    options: {
      responsive: false,
      animation: false,
      devicePixelRatio: 1,
      layout: { padding: { left: 0, top: PAD_T, right: PAD_R, bottom: 0 } },
      plugins: {
        legend: { display: false },
        tooltip: { enabled: false },
        boxLegend: { legend: cfg.legend, series: cfg.series }
      },
      scales: {
        x: {
          type: 'linear', min: cfg.xMin, max: cfg.xMax,
          afterBuildTicks: s => { s.ticks = cfg.xTicks.map(v => ({ value: v })); },
          afterFit: s => { s.height = PAD_B; },
          grid: { display: false, drawTicks: false },
          border: { display: false },
          ticks: { font: tickFont, color: '#333', padding: 3, maxRotation: 0, autoSkip: false },
          title: { display: true, text: 'Layer number', font: tickFont, color: '#555', padding: { top: 0, bottom: 1 } }
        },
        y: {
          type: 'linear', min: 0, max: cfg.yMax,
          afterBuildTicks: s => { s.ticks = cfg.yTicks.map(v => ({ value: v })); },
          afterFit: s => { s.width = PAD_L; },
          grid: { display: false, drawTicks: false },
          border: { display: false },
          ticks: { font: tickFont, color: '#333', padding: 4, autoSkip: false, callback: v => String(v) },
          title: { display: true, text: 'Roles', font: tickFont, color: '#555', padding: { top: 0, bottom: 2 } }
        }
      }
    },
    plugins: [boxPlugin]
  });
});
</script>
</body>
</html>
